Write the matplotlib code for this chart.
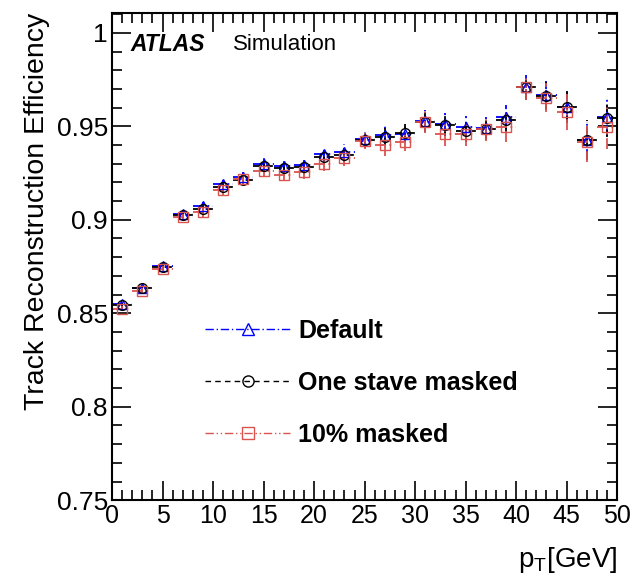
import numpy as np
import matplotlib.pyplot as plt
from matplotlib.lines import Line2D
from matplotlib.ticker import MultipleLocator

plt.rcParams['font.family'] = ['Liberation Sans', 'DejaVu Sans']

# bin centres (2 GeV bins)
pt = [1, 3, 5, 7, 9, 11, 13, 15, 17, 19, 21, 23, 25,
      27, 29, 31, 33, 35, 37, 39, 41, 43, 45, 47, 49]
pt_halfwidth = 1.0

eff_default = [0.8547, 0.8636, 0.8753, 0.9030, 0.9075, 0.9190, 0.9230, 0.9300, 0.9287,
               0.9294, 0.9350, 0.9365, 0.9430, 0.9455, 0.9460, 0.9530, 0.9514, 0.9496,
               0.9490, 0.9550, 0.9708, 0.9668, 0.9604, 0.9425, 0.9550]
eff_stave = [0.8542, 0.8633, 0.8748, 0.9025, 0.9057, 0.9174, 0.9214, 0.9290, 0.9275,
             0.9280, 0.9335, 0.9345, 0.9425, 0.9445, 0.9462, 0.9525, 0.9505, 0.9475,
             0.9488, 0.9532, 0.9708, 0.9660, 0.9605, 0.9428, 0.9545]
eff_ten = [0.8525, 0.8618, 0.8735, 0.9013, 0.9039, 0.9160, 0.9218, 0.9263, 0.9242,
           0.9254, 0.9300, 0.9330, 0.9420, 0.9398, 0.9416, 0.9523, 0.9460, 0.9460,
           0.9487, 0.9496, 0.9708, 0.9654, 0.9577, 0.9416, 0.9496]

err_default = [0.0012, 0.0014, 0.0016, 0.0018, 0.0020, 0.0022, 0.0025, 0.0030, 0.0032,
               0.0034, 0.0036, 0.0038, 0.0040, 0.0045, 0.0048, 0.0055, 0.0058, 0.0060,
               0.0060, 0.0065, 0.0065, 0.0075, 0.0085, 0.0105, 0.0100]
err_stave = [0.0012, 0.0014, 0.0016, 0.0018, 0.0020, 0.0022, 0.0025, 0.0030, 0.0032,
             0.0034, 0.0036, 0.0038, 0.0040, 0.0045, 0.0048, 0.0055, 0.0058, 0.0060,
             0.0060, 0.0065, 0.0065, 0.0075, 0.0085, 0.0105, 0.0100]
err_ten = [0.0014, 0.0016, 0.0018, 0.0020, 0.0022, 0.0025, 0.0028, 0.0032, 0.0035,
           0.0036, 0.0038, 0.0040, 0.0042, 0.0055, 0.0050, 0.0060, 0.0065, 0.0065,
           0.0065, 0.0080, 0.0065, 0.0075, 0.0095, 0.0105, 0.0120]

series = [
    ("Default", eff_default, err_default, 'blue', '^', (0, (6, 2, 1, 2))),
    ("One stave masked", eff_stave, err_stave, 'black', 'o', (0, (4, 3))),
    ("10% masked", eff_ten, err_ten, '#d9534f', 's', (0, (6, 2, 1, 2, 1, 2))),
]

fig = plt.figure(figsize=(6.33, 5.83), dpi=100)
ax = fig.add_axes([0.177, 0.142, 0.798, 0.836])

handles = []
for name, y, e, col, mk, ls in series:
    c = ax.errorbar(pt, y, xerr=pt_halfwidth, yerr=e, fmt=mk, mfc='none', mec=col,
                    ms=7, mew=1.0, ecolor=col, elinewidth=1.3, capsize=0)
    for bl in c[2]:
        bl.set_linestyle(ls)
    handles.append(Line2D([], [], color=col, ls=ls, lw=1.0, marker=mk, mfc='none',
                          mec=col, ms=8))

ax.set_xlim(0, 50)
ax.set_ylim(0.75, 1.0107)
ax.xaxis.set_major_locator(MultipleLocator(5))
ax.xaxis.set_minor_locator(MultipleLocator(1))
ax.yaxis.set_minor_locator(MultipleLocator(0.01))
ax.set_yticks([0.75, 0.8, 0.85, 0.9, 0.95, 1.0])
ax.set_yticklabels(['0.75', '0.8', '0.85', '0.9', '0.95', '1'])
ax.tick_params(which='both', direction='in', top=True, right=True, width=1.2)
ax.tick_params(axis='y', labelsize=19, pad=3)
ax.tick_params(axis='x', labelsize=18, pad=3)
ax.tick_params(which='major', length=14)
ax.tick_params(which='minor', length=7)
for s in ax.spines.values():
    s.set_linewidth(1.5)

ax.set_ylabel('Track Reconstruction Efficiency', fontsize=20.5, loc='top', labelpad=5)
ax.set_xlabel(r'p$_\mathregular{T}$[GeV]', fontsize=20, loc='right', labelpad=12)

ax.text(0.036, 0.934, 'ATLAS', transform=ax.transAxes, fontsize=16.5, fontweight='bold',
        style='italic', va='center')
ax.text(0.24, 0.934, 'Simulation', transform=ax.transAxes, fontsize=16, va='center')

leg = ax.legend(handles, [s[0] for s in series], loc='upper left',
                bbox_to_anchor=(0.165, 0.393), frameon=False, handlelength=3.4,
                labelspacing=1.13, handletextpad=0.3, borderaxespad=0,
                prop={'weight': 'bold', 'size': 18})

fig.savefig('out.png', dpi=100)
